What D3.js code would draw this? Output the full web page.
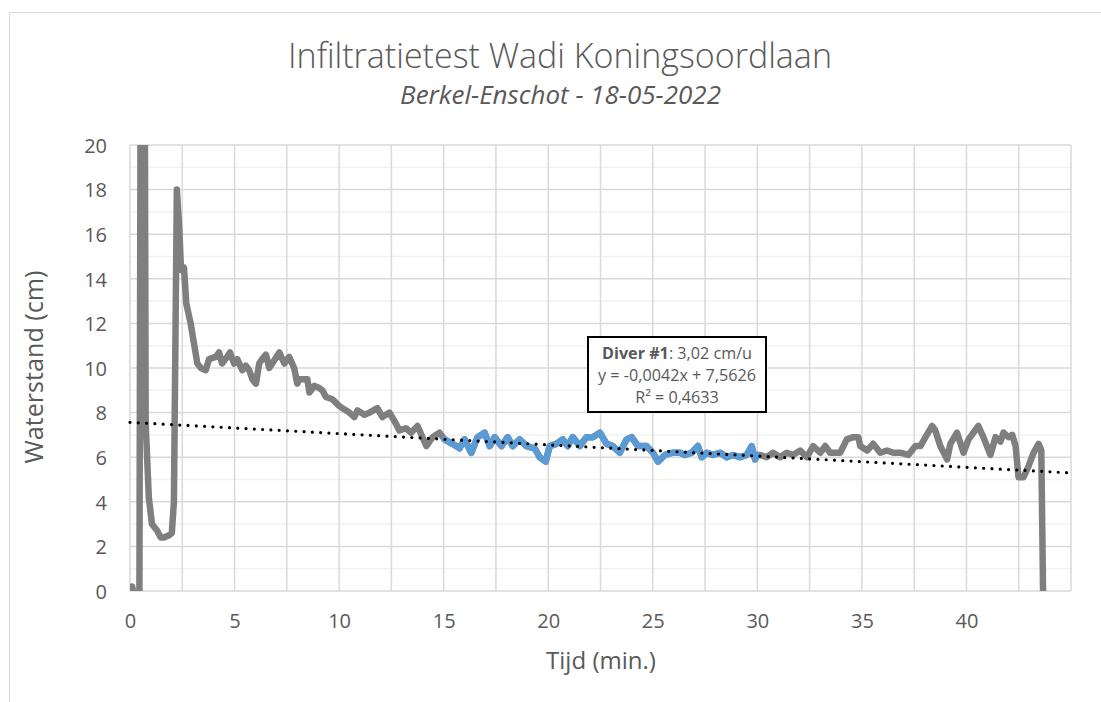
<!DOCTYPE html>
<html>
<head>
<meta charset="utf-8">
<script src="https://cdn.jsdelivr.net/npm/d3@7"></script>
<style>
  html, body { margin: 0; padding: 0; background: #fff; }
  svg { display: block; }
  text { font-family: "Open Sans", "DejaVu Sans", sans-serif; }
</style>
</head>
<body>
<svg id="chart" width="1101" height="702"></svg>
<script>
// ---------------- DATA ----------------
const titleText = "Infiltratietest Wadi Koningsoordlaan";
const subtitleText = "Berkel-Enschot - 18-05-2022";
const xAxisTitle = "Tijd (min.)";
const yAxisTitle = "Waterstand (cm)";

const xTicks = [0, 5, 10, 15, 20, 25, 30, 35, 40];
const yTicks = [0, 2, 4, 6, 8, 10, 12, 14, 16, 18, 20];

// time in minutes
const timeMin = [
  0.00, 0.10, 0.22, 0.45, 0.60, 0.75, 0.90, 1.05, 1.30, 1.47, 1.62, 1.87, 2.00, 2.10, 2.24,
  2.36, 2.44, 2.58, 2.63, 2.69, 2.90, 3.06, 3.22, 3.39, 3.62, 3.78, 4.10, 4.26, 4.40, 4.65,
  4.78, 4.98, 5.13, 5.37, 5.54, 5.70, 5.85, 6.02, 6.18, 6.32, 6.50, 6.66, 6.80, 7.14, 7.38,
  7.61, 7.85, 8.00, 8.10, 8.34, 8.48, 8.58, 8.82, 9.05, 9.20, 9.37, 9.68, 10.00, 10.16, 10.49,
  10.73, 10.88, 11.21, 11.45, 11.83, 12.07, 12.41, 12.72, 12.88, 13.20, 13.44, 13.75, 14.17, 14.47, 14.80,
  15.04, 15.42, 15.76, 16.00, 16.32, 16.62, 16.96, 17.20, 17.44, 17.76, 18.06, 18.30, 18.63, 18.96, 19.35,
  19.59, 19.88, 20.07, 20.39, 20.69, 20.93, 21.17, 21.51, 21.83, 22.13, 22.47, 22.79, 23.09, 23.42, 23.75,
  23.99, 24.29, 24.70, 25.01, 25.25, 25.58, 25.96, 26.30, 26.54, 26.86, 27.16, 27.34, 27.58, 27.88, 28.22,
  28.54, 28.84, 29.17, 29.49, 29.73, 29.89, 30.00, 30.13, 30.45, 30.75, 31.09, 31.41, 31.71, 32.05, 32.37,
  32.67, 33.01, 33.25, 33.48, 33.96, 34.28, 34.59, 34.83, 34.92, 35.25, 35.54, 35.88, 36.20, 36.50, 36.84,
  37.22, 37.56, 37.80, 38.04, 38.36, 38.51, 38.75, 39.08, 39.23, 39.55, 39.86, 40.10, 40.57, 40.81, 41.15,
  41.39, 41.63, 41.77, 42.01, 42.19, 42.35, 42.49, 42.73, 42.97, 43.21, 43.45, 43.58, 43.67
];

// water level in cm
const levelCm = [
  -0.3, 0.2, -0.3, -0.3, 60.0, 7.5, 4.2, 3.0, 2.7, 2.4, 2.4, 2.5, 2.6, 4.0, 18.0,
  16.2, 14.4, 14.5, 13.8, 12.9, 12.0, 11.1, 10.2, 10.0, 9.9, 10.4, 10.5, 10.7, 10.2, 10.5,
  10.7, 10.2, 10.4, 9.9, 10.1, 9.9, 9.5, 9.3, 10.2, 10.4, 10.6, 10.0, 10.2, 10.7, 10.2,
  10.5, 10.0, 9.3, 9.5, 9.5, 9.5, 8.9, 9.2, 9.1, 9.0, 8.7, 8.6, 8.3, 8.2, 8.0,
  7.8, 8.1, 7.9, 8.0, 8.2, 7.8, 8.0, 7.5, 7.2, 7.3, 7.1, 7.4, 6.5, 6.9, 7.1,
  6.8, 6.6, 6.4, 6.8, 6.2, 6.9, 7.1, 6.5, 6.9, 6.5, 6.9, 6.5, 6.8, 6.5, 6.4,
  6.0, 5.8, 6.5, 6.6, 6.8, 6.5, 6.9, 6.5, 6.9, 6.9, 7.1, 6.6, 6.5, 6.2, 6.8,
  6.9, 6.5, 6.5, 6.2, 5.8, 6.1, 6.2, 6.2, 6.1, 6.2, 6.5, 6.0, 6.2, 6.1, 6.2,
  6.0, 6.1, 6.0, 6.1, 6.5, 5.9, 6.1, 6.1, 6.0, 6.2, 6.0, 6.2, 6.1, 6.3, 6.0,
  6.5, 6.2, 6.5, 6.2, 6.2, 6.8, 6.9, 6.9, 6.5, 6.3, 6.6, 6.2, 6.3, 6.2, 6.2,
  6.1, 6.5, 6.5, 6.9, 7.4, 7.2, 6.5, 5.9, 6.6, 7.1, 6.2, 6.8, 7.4, 6.9, 6.1,
  6.9, 6.7, 7.1, 6.9, 7.0, 6.5, 5.1, 5.1, 5.6, 6.2, 6.6, 6.3, -0.5
];

// highlighted (Diver #1) section, minutes
const highlightRange = [15.04, 30.0];

// trend line (x in samples of 5 s)
const trendIntercept = 7.5626;
const trendSlopePerSample = -0.0042;
const samplesPerMinute = 12;

const annotationLines = [
  [{ t: "Diver #1", b: true }, { t: ": 3,02 cm/u", b: false }],
  [{ t: "y = -0,0042x + 7,5626", b: false }],
  [{ t: "R² = 0,4633", b: false }]
];

// ---------------- LAYOUT ----------------
const svg = d3.select("#chart");
const plot = { left: 130, right: 1071, top: 145, bottom: 591 };
const textColor = "#595959";

const x = d3.scaleLinear().domain([0, 45]).range([plot.left, plot.right]);
const y = d3.scaleLinear().domain([0, 20]).range([plot.bottom, plot.top]);

function fitWidth(sel, target) {
  const fs = parseFloat(sel.attr("font-size"));
  const w = sel.node().getComputedTextLength();
  if (w > 0) sel.attr("font-size", fs * target / w);
  return sel;
}

// outer chart frame (cropped)
svg.append("rect").attr("x", 9.5).attr("y", 12.5).attr("width", 1200).attr("height", 800)
  .attr("fill", "#fff").attr("stroke", "#d9d9d9").attr("stroke-width", 1);

// gridlines
const grid = svg.append("g");
grid.selectAll(".hmin").data(d3.range(1, 20, 2)).join("line")
  .attr("x1", plot.left).attr("x2", plot.right)
  .attr("y1", d => y(d)).attr("y2", d => y(d))
  .attr("stroke", "#f2f2f2").attr("stroke-width", 1.5);
grid.selectAll(".vline").data(d3.range(0, 45.01, 2.5)).join("line")
  .attr("x1", d => x(d)).attr("x2", d => x(d))
  .attr("y1", plot.top).attr("y2", plot.bottom)
  .attr("stroke", "#d9d9d9").attr("stroke-width", 1.5);
grid.selectAll(".hmaj").data(yTicks).join("line")
  .attr("x1", plot.left).attr("x2", plot.right)
  .attr("y1", d => y(d)).attr("y2", d => y(d))
  .attr("stroke", "#d9d9d9").attr("stroke-width", 1.5);

// axes labels via d3 axes
const xAxis = d3.axisBottom(x).tickValues(xTicks).tickSize(0).tickPadding(0).tickFormat(d3.format("d"));
const gx = svg.append("g").attr("transform", `translate(0,${plot.bottom})`).call(xAxis);
gx.select(".domain").remove();
gx.selectAll("text").attr("fill", textColor).attr("font-size", 20)
  .attr("font-family", "Open Sans").attr("y", 0).attr("dy", "37px");

const yAxis = d3.axisLeft(y).tickValues(yTicks).tickSize(0).tickPadding(0).tickFormat(d3.format("d"));
const gy = svg.append("g").attr("transform", `translate(${plot.left - 23},0)`).call(yAxis);
gy.select(".domain").remove();
gy.selectAll("text").attr("fill", textColor).attr("font-size", 20)
  .attr("font-family", "Open Sans").attr("x", 0).attr("dy", "0.36em");

// clip
svg.append("clipPath").attr("id", "clip").append("rect")
  .attr("x", plot.left).attr("y", plot.top)
  .attr("width", plot.right - plot.left).attr("height", plot.bottom - plot.top);

const data = timeMin.map((t, i) => ({ t, v: levelCm[i] }));
const line = d3.line().x(d => x(d.t)).y(d => y(d.v)).curve(d3.curveLinear);

const lines = svg.append("g").attr("clip-path", "url(#clip)");
lines.append("path").datum(data).attr("d", line)
  .attr("fill", "none").attr("stroke", "#7f7f7f").attr("stroke-width", 6.5)
  .attr("stroke-linejoin", "round").attr("stroke-linecap", "round");
const hl = data.filter(d => d.t >= highlightRange[0] && d.t <= highlightRange[1]);
lines.append("path").datum(hl).attr("d", line)
  .attr("fill", "none").attr("stroke", "#5b9bd5").attr("stroke-width", 6.5)
  .attr("stroke-linejoin", "round").attr("stroke-linecap", "round");

// trend line
const trend = [0, 45].map(t => ({ t, v: trendIntercept + trendSlopePerSample * samplesPerMinute * t }));
svg.append("path").datum(trend).attr("d", line)
  .attr("fill", "none").attr("stroke", "#000").attr("stroke-width", 3.2)
  .attr("stroke-linecap", "round").attr("stroke-dasharray", "0 8.3");

// annotation box
const box = { x: 588, y: 337, w: 178, h: 75 };
svg.append("rect").attr("x", box.x).attr("y", box.y).attr("width", box.w).attr("height", box.h)
  .attr("fill", "#fff").attr("stroke", "#000").attr("stroke-width", 2);
const lineBase = [359, 381, 403];
const annTexts = annotationLines.map((parts, i) => {
  const t = svg.append("text").attr("x", box.x + box.w / 2).attr("y", lineBase[i])
    .attr("text-anchor", "middle").attr("font-size", 15).attr("fill", textColor);
  parts.forEach(p => t.append("tspan").text(p.t).attr("font-weight", p.b ? "bold" : "normal"));
  return t;
});
fitWidth(annTexts[1], 158);
const annSize = annTexts[1].attr("font-size");
annTexts.forEach(t => t.attr("font-size", annSize));

// titles
const title = svg.append("text").attr("x", 560).attr("y", 68).attr("text-anchor", "middle")
  .attr("font-size", 30).attr("font-weight", 300).attr("fill", textColor).text(titleText);
fitWidth(title, 544);
const sub = svg.append("text").attr("x", 560.5).attr("y", 104).attr("text-anchor", "middle")
  .attr("font-size", 20).attr("font-style", "italic").attr("fill", textColor).text(subtitleText);
fitWidth(sub, 321);

const xt = svg.append("text").attr("x", 601).attr("y", 669).attr("text-anchor", "middle")
  .attr("font-size", 20).attr("fill", textColor).text(xAxisTitle);
fitWidth(xt, 110);
const yt = svg.append("text").attr("transform", "translate(43,367) rotate(-90)").attr("text-anchor", "middle")
  .attr("font-size", 20).attr("fill", textColor).text(yAxisTitle);
fitWidth(yt, 193);
</script>
</body>
</html>
